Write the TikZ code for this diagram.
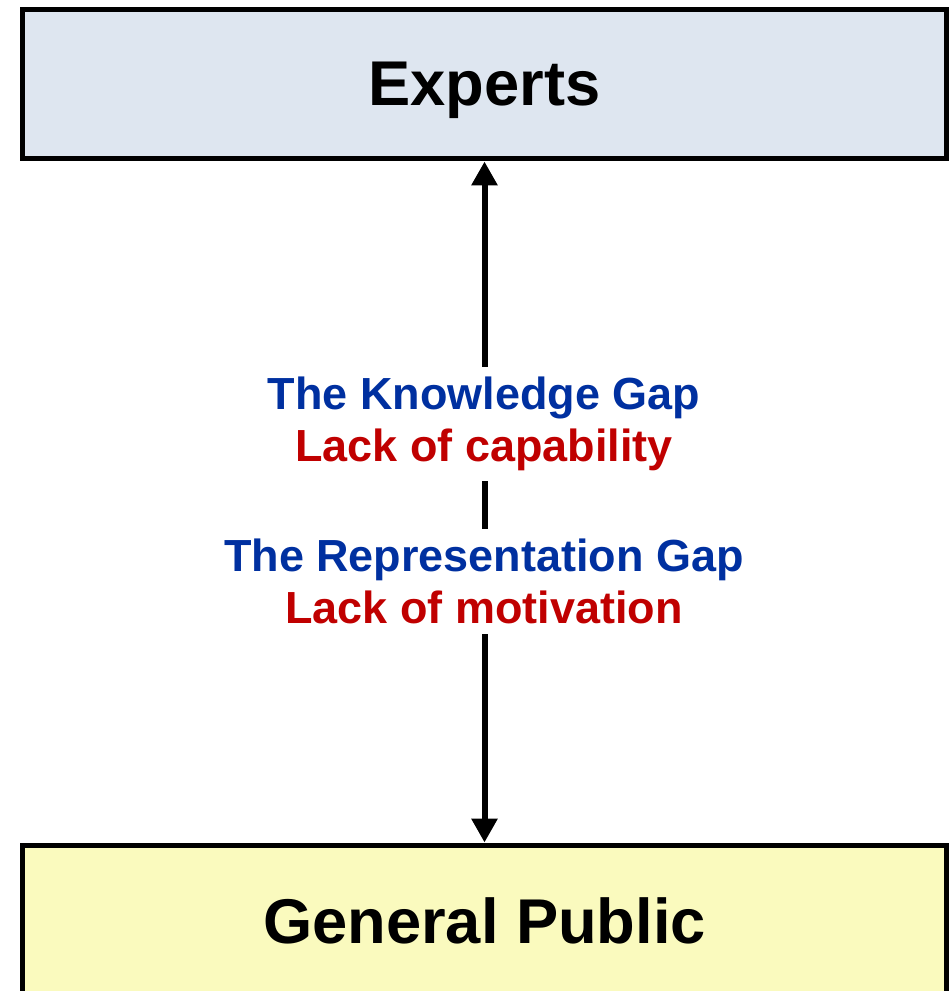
\documentclass[tikz,border=0pt]{standalone}
\usepackage{fontspec}
\setmainfont{Liberation Sans}
\usetikzlibrary{positioning, arrows.meta}
\definecolor{expfill}{RGB}{222,230,240}
\definecolor{pubfill}{RGB}{250,250,190}
\definecolor{gapblue}{RGB}{0,48,160}
\definecolor{gapred}{RGB}{192,0,0}
\tikzset{
  group/.style={draw, line width=0.1cm, minimum width=18.5cm, text depth=0pt,
    font=\fontsize{36}{40}\selectfont\bfseries},
  gap/.style={fill=white, align=center, inner xsep=0.1cm, inner ysep=0.2cm,
    font=\fontsize{25.6}{29.6}\selectfont\bfseries}
}
\begin{document}
\begin{tikzpicture}[x=0.02cm, y=-0.02cm, >={Triangle[width=0.5cm, length=0.48cm]}]
  \useasboundingbox (0,0) rectangle (951,991);
  \clip (0,0) rectangle (951,991);

  % Groups
  \node[group, fill=expfill, minimum height=3cm] (experts) at (484.5,84) {Experts};
  \node[group, fill=pubfill, minimum height=3.04cm] (public) at (484.5,921) {General Public};

  % Two-way link
  \draw[<->, line width=0.12cm] (experts) -- (public);

  % Gap labels
  \node[gap] (knowledge) at (484,424) {\textcolor{gapblue}{The Knowledge Gap}\\\textcolor{gapred}{Lack of capability}};
  \node[gap] (representation) at (484,581.5) {\textcolor{gapblue}{The Representation Gap}\\\textcolor{gapred}{Lack of motivation}};
\end{tikzpicture}
\end{document}
